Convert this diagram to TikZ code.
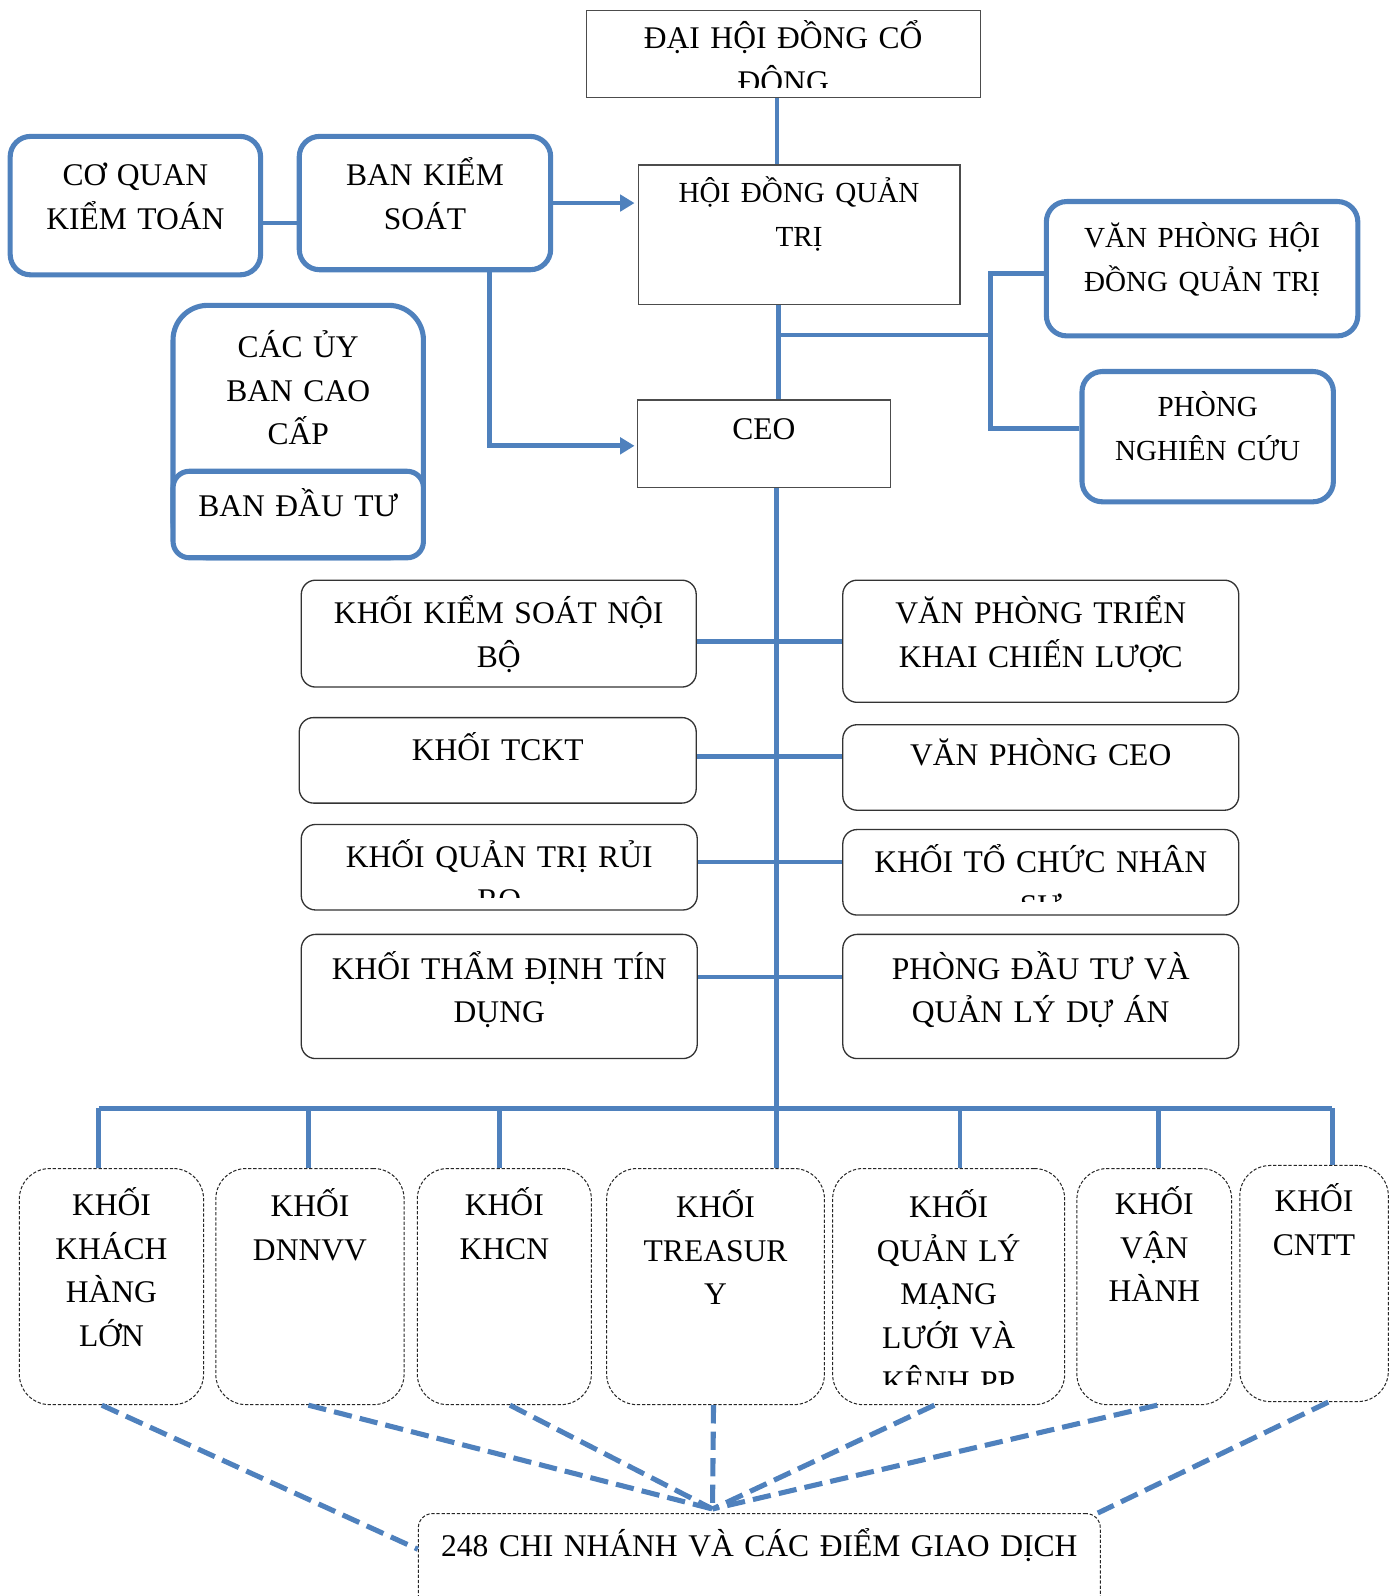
\documentclass[tikz,border=0pt]{standalone}
\usepackage{fontspec}
\setmainfont{Liberation Serif}
\usetikzlibrary{arrows.meta}
\definecolor{ocean}{RGB}{79,129,189}
\newcommand\boxfont{\fontsize{15.5pt}{21.5pt}\selectfont}
\newcommand\smallbox{\fontsize{14.3pt}{20pt}\selectfont}

\begin{document}
\begin{tikzpicture}[x=0.5pt, y=-0.5pt, >={Triangle[length=7pt,width=8pt]},
    sharp/.style = {draw=black!70, line width=0.65pt},
    soft/.style = {draw=black!80, line width=0.65pt, rounded corners=7pt},
    ring/.style = {draw=ocean, line width=2.5pt, rounded corners=10pt, fill=white},
    loose/.style = {draw=black!85, line width=0.5pt, dash pattern=on 1.6pt off 0.9pt, rounded corners=15pt},
    link/.style = {draw=ocean, line width=2.3pt},
    feed/.style = {draw=ocean, line width=2.5pt, dash pattern=on 9pt off 4pt},
    dims/.style 2 args = {minimum width=#1, minimum height=#2, inner sep=0pt},
    words/.style = {anchor=base, align=center, text width=14cm, inner sep=0pt, minimum size=0pt, font=\boxfont},
    txt/.style n args = {3}{path picture={
        \clip ([yshift=#2]path picture bounding box.south west) rectangle (path picture bounding box.north east);
        \node[words] at ([yshift=-#1]path picture bounding box.north) {#3};}}]
    \useasboundingbox (0,0) rectangle (1368,1568);

    % Top of the tree
    \node[sharp, dims={193.5pt}{43pt}, txt={19pt}{5.2pt}{ĐẠI HỘI ĐỒNG CỔ\\ĐÔNG}] (dhdcd) at (769.5,53) {};
    \node[sharp, dims={158pt}{68.5pt}, txt={18.5pt}{0pt}{\smallbox HỘI ĐỒNG QUẢN\\TRỊ}] (hdqt) at (785,230.5) {};
    \node[ring, dims={123pt}{68pt}, txt={24pt}{0pt}{CƠ QUAN\\KIỂM TOÁN}] (cqkt) at (133,202) {};
    \node[ring, dims={123.5pt}{65.5pt}, txt={24pt}{0pt}{BAN KIỂM\\SOÁT}] (bks) at (417.5,199.5) {};
    \node[ring, rounded corners=17pt, dims={123pt}{124pt}, txt={25.5pt}{0pt}{CÁC ỦY\\BAN CAO\\CẤP}] (uyban) at (293,424) {};
    \node[ring, rounded corners=8pt, dims={123pt}{42.5pt}, txt={22pt}{0pt}{BAN ĐẦU TƯ}] (bandt) at (293,505.5) {};
    \node[ring, dims={153pt}{66pt}, txt={22.5pt}{0pt}{\smallbox VĂN PHÒNG HỘI\\ĐỒNG QUẢN TRỊ}] (vphd) at (1181,264) {};
    \node[ring, dims={123.5pt}{64pt}, txt={22pt}{0pt}{\smallbox PHÒNG\\NGHIÊN CỨU}] (pnc) at (1186.5,429) {};
    \node[sharp, dims={124.5pt}{43pt}, txt={19.5pt}{0pt}{CEO}] (ceo) at (750.5,436) {};

    % Two columns under the CEO
    \node[soft, dims={194pt}{52.5pt}, txt={21.5pt}{0pt}{KHỐI KIỂM SOÁT NỘI\\BỘ}] (ksnb) at (490,622.5) {};
    \node[soft, dims={195pt}{42pt}, txt={21pt}{0pt}{KHỐI TCKT}] (tckt) at (489,747) {};
    \node[soft, dims={194.5pt}{42pt}, txt={21pt}{6pt}{KHỐI QUẢN TRỊ RỦI\\RO}] (qtrr) at (490.5,852) {};
    \node[soft, dims={194.5pt}{61pt}, txt={22pt}{0pt}{KHỐI THẨM ĐỊNH TÍN\\DỤNG}] (tdtd) at (490.5,979) {};
    \node[soft, dims={194.5pt}{60pt}, txt={21.5pt}{0pt}{VĂN PHÒNG TRIỂN\\KHAI CHIẾN LƯỢC}] (vptk) at (1022.5,630) {};
    \node[soft, dims={194.5pt}{42pt}, txt={20pt}{0pt}{VĂN PHÒNG CEO}] (vpceo) at (1022.5,754) {};
    \node[soft, dims={194.5pt}{42pt}, txt={21pt}{6.5pt}{KHỐI TỔ CHỨC NHÂN\\SỰ}] (tcns) at (1022.5,857) {};
    \node[soft, dims={194.5pt}{61pt}, txt={22pt}{0pt}{PHÒNG ĐẦU TƯ VÀ\\QUẢN LÝ DỰ ÁN}] (pdt) at (1022.5,979) {};

    % Business blocks
    \node[loose, dims={90.5pt}{116pt}, txt={23pt}{0pt}{KHỐI\\KHÁCH\\HÀNG\\LỚN}] (khl) at (109.5,1264) {};
    \node[loose, dims={92.5pt}{116pt}, txt={23.5pt}{0pt}{KHỐI\\DNNVV}] (dnnvv) at (304.5,1264) {};
    \node[loose, dims={85.5pt}{116pt}, txt={23pt}{0pt}{KHỐI\\KHCN}] (khcn) at (495.5,1264) {};
    \node[loose, dims={107pt}{116pt}, txt={24pt}{0pt}{KHỐI\\TREASUR\\Y}] (tre) at (703,1264) {};
    \node[loose, dims={114pt}{116pt}, txt={24pt}{10pt}{KHỐI\\QUẢN LÝ\\MẠNG\\LƯỚI VÀ\\KÊNH PP}] (qlml) at (932,1264) {};
    \node[loose, dims={76pt}{116pt}, txt={22.5pt}{0pt}{KHỐI\\VẬN\\HÀNH}] (vh) at (1134,1264) {};
    \node[loose, dims={73pt}{116pt}, txt={22.5pt}{0pt}{KHỐI\\CNTT}] (cntt) at (1291,1261) {};
    \node[loose, rounded corners=7pt, dims={335pt}{56.5pt}, txt={21pt}{0pt}{248 CHI NHÁNH VÀ CÁC ĐIỂM GIAO DỊCH}] (chn) at (746,1543.5) {};

    % Edges
    \draw[link] ([xshift=-3pt]dhdcd.south) -- ([xshift=-3pt]dhdcd.south |- hdqt.north);
    \draw[link] ([yshift=-8.5pt]cqkt.east) -- ([yshift=-8.5pt]cqkt.east -| bks.west);
    \draw[link, ->, shorten >=1.5pt] (bks.east) -- (bks.east -| hdqt.west);
    \draw[link, ->, shorten >=1pt] ([xshift=31.75pt]bks.south) |- ([yshift=-1pt]ceo.west);

    \coordinate (spine) at (765,329);
    \coordinate (fork) at (973,329);
    \draw[link] (spine |- hdqt.south) -- (spine |- ceo.north);
    \draw[link] (spine) -- (fork);
    \draw[link] ([yshift=-2.5pt]vphd.west) -| (fork) |- ([yshift=4pt]pnc.west);

    \coordinate (trunk) at (763,1089);
    \draw[link] (trunk |- ceo.south) -- (trunk |- tre.north);
    \draw[link] (vptk.west -| ksnb.east) -- (vptk.west);
    \draw[link] ([yshift=2pt]tckt.east) -- ([yshift=2pt]tckt.east -| vpceo.west);
    \draw[link] ([yshift=2.5pt]qtrr.east) -- ([yshift=2.5pt]qtrr.east -| tcns.west);
    \draw[link] ([yshift=9.5pt]tdtd.east) -- ([yshift=9.5pt]tdtd.east -| pdt.west);

    % Bus to the blocks
    \draw[link] ([xshift=-6.25pt]khl.north |- trunk) -- ([xshift=9pt]cntt.north |- trunk);
    \foreach \n/\s in {khl/-6.25pt, dnnvv/-0.75pt, khcn/-2.25pt, qlml/5.5pt, vh/2pt, cntt/9pt}
        \draw[link] ([xshift=\s]\n.north |- trunk) -- ([xshift=\s]\n.north);

    % Dashed feeds to the branches
    \coordinate (hub) at ([xshift=-23pt, yshift=2pt]chn.north);
    \draw[feed] ([xshift=-4.75pt]khl.south) -- ([yshift=10.75pt]chn.west);
    \foreach \n/\s in {dnnvv/-0.75pt, khcn/2.75pt, tre/-1pt, qlml/-7pt, vh/1.5pt}
        \draw[feed] ([xshift=\s]\n.south) -- (hub);
    \draw[feed] ([xshift=7pt]cntt.south) -- ([xshift=-1.5pt]chn.north east);

\end{tikzpicture}
\end{document}
